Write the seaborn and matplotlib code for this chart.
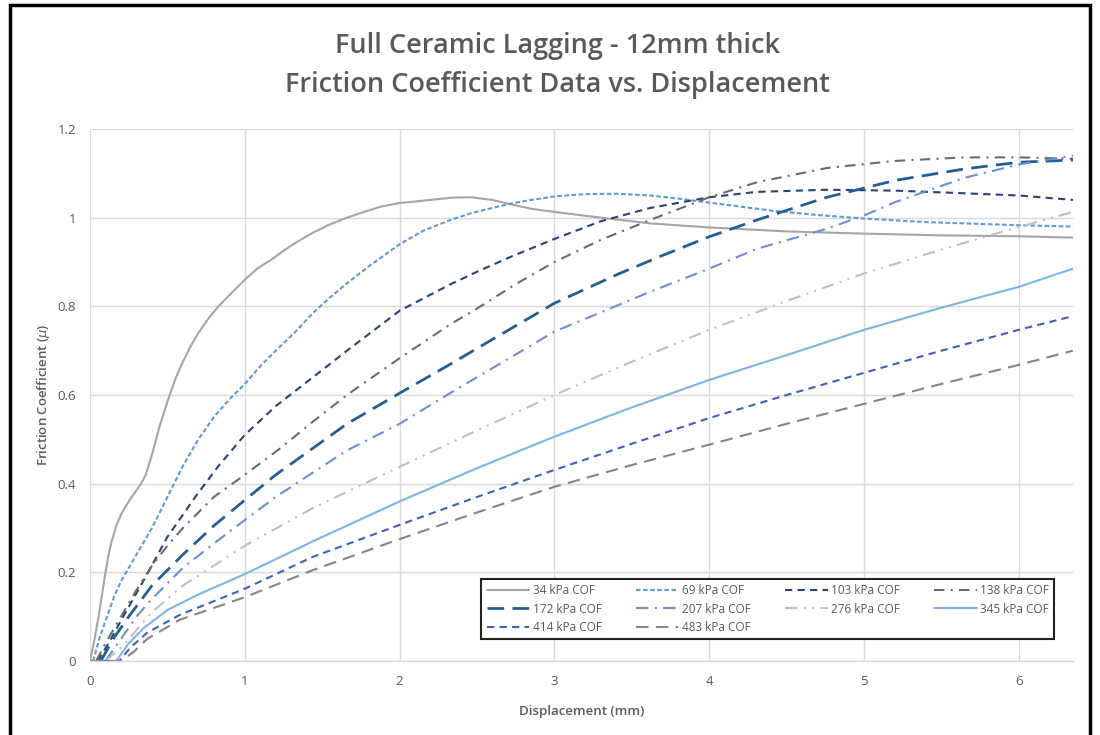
import numpy as np
import pandas as pd
import matplotlib
matplotlib.use("Agg")
import matplotlib.pyplot as plt
from matplotlib.patches import Rectangle
import seaborn as sns

# ---------------- data ----------------
series_names = ["34 kPa COF", "69 kPa COF", "103 kPa COF", "138 kPa COF", "172 kPa COF",
                "207 kPa COF", "276 kPa COF", "345 kPa COF", "414 kPa COF", "483 kPa COF"]

x_34 = [0, 0.03, 0.055, 0.08, 0.1, 0.12, 0.14, 0.17, 0.2, 0.25, 0.3, 0.33, 0.36, 0.4, 0.45, 0.5, 0.55, 0.6,
        0.65, 0.7, 0.77, 0.83, 0.9, 1.0, 1.08, 1.17, 1.26, 1.35, 1.44, 1.55, 1.66, 1.77, 1.88, 2.0, 2.2, 2.33,
        2.46, 2.6, 2.72, 2.85, 3.0, 3.3, 3.62, 4.0, 4.5, 5.0, 5.5, 6.0, 6.35]
y_34 = [0, 0.05, 0.1, 0.155, 0.2, 0.24, 0.27, 0.305, 0.33, 0.36, 0.385, 0.4, 0.42, 0.465, 0.53, 0.585, 0.635, 0.675,
        0.71, 0.74, 0.775, 0.8, 0.825, 0.86, 0.885, 0.905, 0.928, 0.948, 0.966, 0.985, 1.0, 1.013, 1.025, 1.033, 1.04, 1.045,
        1.046, 1.04, 1.03, 1.02, 1.013, 1.0, 0.987, 0.978, 0.969, 0.964, 0.96, 0.958, 0.955]

x_69 = [0.02, 0.06, 0.1, 0.15, 0.2, 0.3, 0.4, 0.5, 0.6, 0.7, 0.8, 0.9, 1.0, 1.1, 1.2, 1.32, 1.44, 1.55, 1.66, 1.8,
        2.0, 2.15, 2.33, 2.46, 2.6, 2.72, 2.85, 3.0, 3.2, 3.4, 3.62, 3.8, 4.0, 4.2, 4.4, 4.7, 5.0, 5.4, 6.0, 6.35]
y_69 = [0, 0.05, 0.09, 0.14, 0.18, 0.24, 0.3, 0.37, 0.44, 0.5, 0.55, 0.59, 0.625, 0.665, 0.7, 0.74, 0.785, 0.82, 0.852, 0.89,
        0.94, 0.97, 0.995, 1.01, 1.022, 1.032, 1.04, 1.048, 1.053, 1.054, 1.05, 1.043, 1.034, 1.025, 1.016, 1.006, 0.998, 0.99, 0.983, 0.98]

x_103 = [0.05, 0.12, 0.23, 0.36, 0.5, 0.68, 0.83, 1.0, 1.2, 1.44, 1.66, 2.0, 2.33, 2.5, 2.72, 3.0, 3.3, 3.62,
         4.0, 4.3, 4.76, 5.2, 5.65, 6.0, 6.35]
y_103 = [0, 0.04, 0.11, 0.19, 0.28, 0.37, 0.44, 0.51, 0.575, 0.64, 0.7, 0.79, 0.85, 0.878, 0.912, 0.952, 0.992, 1.022,
         1.046, 1.058, 1.063, 1.061, 1.055, 1.05, 1.04]

x_138 = [0.04, 0.1, 0.2, 0.3, 0.4, 0.5, 0.6, 0.7, 0.8, 1.0, 1.23, 1.44, 1.66, 2.0, 2.33, 2.5, 2.75, 3.0, 3.3, 3.62,
         4.0, 4.31, 4.76, 5.2, 5.65, 6.0, 6.35]
y_138 = [0, 0.04, 0.1, 0.16, 0.215, 0.26, 0.3, 0.335, 0.37, 0.42, 0.48, 0.54, 0.6, 0.683, 0.76, 0.795, 0.85, 0.9, 0.95, 0.995,
         1.046, 1.08, 1.112, 1.128, 1.136, 1.136, 1.133]

x_172 = [0.07, 0.15, 0.25, 0.4, 0.6, 0.8, 1.0, 1.2, 1.44, 1.66, 2.0, 2.33, 2.5, 3.0, 3.42, 3.7, 4.0, 4.31,
         4.76, 5.2, 5.65, 6.0, 6.35]
y_172 = [0, 0.05, 0.1, 0.17, 0.24, 0.305, 0.363, 0.42, 0.48, 0.535, 0.604, 0.67, 0.705, 0.807, 0.874, 0.915, 0.957, 0.995,
         1.046, 1.084, 1.11, 1.125, 1.13]

x_207 = [0.1, 0.2, 0.3, 0.4, 0.6, 0.8, 1.0, 1.2, 1.44, 1.66, 2.0, 2.33, 2.5, 3.0, 3.62, 4.0, 4.31, 4.76,
         5.0, 5.2, 5.65, 6.0, 6.35]
y_207 = [0, 0.05, 0.1, 0.14, 0.21, 0.265, 0.318, 0.37, 0.425, 0.475, 0.535, 0.605, 0.64, 0.743, 0.833, 0.885, 0.93, 0.975,
         1.005, 1.035, 1.09, 1.12, 1.14]

x_276 = [0.1, 0.2, 0.3, 0.4, 0.6, 0.8, 1.0, 1.44, 2.0, 2.5, 3.0, 3.5, 4.0, 4.5, 5.0, 5.5, 6.0, 6.35]
y_276 = [0, 0.03, 0.07, 0.11, 0.17, 0.215, 0.26, 0.345, 0.438, 0.52, 0.6, 0.675, 0.747, 0.812, 0.874, 0.928, 0.979, 1.013]

x_345 = [0, 0.17, 0.25, 0.35, 0.5, 0.7, 1.0, 1.44, 2.0, 2.5, 3.0, 3.5, 4.0, 4.5, 5.0, 5.5, 6.0, 6.35]
y_345 = [0, 0, 0.04, 0.075, 0.115, 0.15, 0.196, 0.27, 0.36, 0.435, 0.506, 0.572, 0.634, 0.69, 0.747, 0.797, 0.844, 0.885]

x_414 = [0, 0.19, 0.26, 0.37, 0.58, 1.0, 1.44, 2.0, 2.5, 3.0, 3.5, 4.0, 4.5, 5.0, 5.5, 6.0, 6.35]
y_414 = [0, 0, 0.03, 0.064, 0.104, 0.163, 0.235, 0.307, 0.37, 0.431, 0.49, 0.548, 0.6, 0.65, 0.7, 0.747, 0.778]

x_483 = [0, 0.2, 0.28, 0.37, 0.58, 1.0, 1.44, 2.0, 2.5, 3.0, 3.5, 4.0, 4.5, 5.0, 5.5, 6.0, 6.35]
y_483 = [0, 0, 0.02, 0.05, 0.093, 0.144, 0.205, 0.275, 0.335, 0.393, 0.442, 0.488, 0.535, 0.58, 0.625, 0.668, 0.70]

x_ticks = [0, 1, 2, 3, 4, 5, 6]
y_ticks = [0, 0.2, 0.4, 0.6, 0.8, 1.0, 1.2]

# ---------------- styles ----------------
colors = {
    "34 kPa COF": "#A5A5A5", "69 kPa COF": "#5B9BD5", "103 kPa COF": "#264478",
    "138 kPa COF": "#6B6B6B", "172 kPa COF": "#255E91", "207 kPa COF": "#6A8FD6",
    "276 kPa COF": "#BFBFBF", "345 kPa COF": "#7DB3E6", "414 kPa COF": "#3A63B8",
    "483 kPa COF": "#858585",
}
dash_styles = {
    "34 kPa COF": "", "69 kPa COF": (2.2, 1.2), "103 kPa COF": (3.5, 2.5),
    "138 kPa COF": (5, 3, 1, 3), "172 kPa COF": (6, 3), "207 kPa COF": (6, 3, 1, 3),
    "276 kPa COF": (6, 3, 1, 3, 1, 3), "345 kPa COF": "", "414 kPa COF": (3.5, 2.5),
    "483 kPa COF": (6, 3.5),
}
widths = {n: 1.5 for n in series_names}
widths["172 kPa COF"] = 2.0

all_x = [x_34, x_69, x_103, x_138, x_172, x_207, x_276, x_345, x_414, x_483]
all_y = [y_34, y_69, y_103, y_138, y_172, y_207, y_276, y_345, y_414, y_483]
frames = [pd.DataFrame({"Displacement": xs, "COF": ys, "series": name})
          for name, xs, ys in zip(series_names, all_x, all_y)]
df = pd.concat(frames, ignore_index=True)

# ---------------- figure ----------------
sns.set_theme(style="whitegrid")
plt.rcParams["font.family"] = ["Open Sans", "DejaVu Sans"]

fig = plt.figure(figsize=(11, 7.35), dpi=100)
ax = fig.add_axes([90 / 1100, 1 - 661 / 735, (1073 - 90) / 1100, (661 - 129) / 735])

sns.lineplot(data=df, x="Displacement", y="COF", hue="series", style="series",
             palette=colors, dashes=dash_styles, hue_order=series_names, style_order=series_names,
             sort=False, estimator=None, ax=ax, legend=False)
lines = ax.get_lines()
for ln, name in zip(lines, series_names):
    ln.set_linewidth(widths[name])

ax.set_xlim(0, 6.35)
ax.set_ylim(0, 1.2)
ax.set_xticks(x_ticks)
ax.set_yticks(y_ticks)
ax.set_yticklabels([f"{v:g}" for v in y_ticks])
ax.set_xticklabels([f"{v:g}" for v in x_ticks])
ax.grid(True, color="#D9D9D9", linewidth=1.0)
for s in ["left", "right", "top"]:
    ax.spines[s].set_visible(False)
ax.spines["bottom"].set_color("#D9D9D9")
ax.spines["bottom"].set_linewidth(1.0)
ax.tick_params(axis="both", length=0, labelsize=9.5, labelcolor="#595959", pad=10)
ax.set_facecolor("white")

ax.set_xlabel("Displacement (mm)", fontsize=9.5, color="#595959", fontweight="semibold", labelpad=12)
ax.set_ylabel(r"Friction Coefficient ($\mu$)", fontsize=9.5, color="#595959", fontweight="semibold", labelpad=4)

fig.text(0.507, 1 - 46 / 735, "Full Ceramic Lagging - 12mm thick", ha="center", va="center",
         fontsize=19.5, color="#595959", fontweight="semibold")
fig.text(0.507, 1 - 85 / 735, "Friction Coefficient Data vs. Displacement", ha="center", va="center",
         fontsize=19.5, color="#595959", fontweight="semibold")

# legend: rows 34/69/103/138, 172/207/276/345, 414/483
order = [0, 4, 8, 1, 5, 9, 2, 6, 3, 7]
handles = [lines[i] for i in order]
labels = [series_names[i] for i in order]
leg = ax.legend(handles, labels, ncol=4, loc="lower left",
                bbox_to_anchor=(0.392, 0.03, 0.595, 0.122), mode="expand",
                fontsize=8.5, handlelength=3.6, handletextpad=0.3, columnspacing=0.6,
                labelspacing=0.45, borderpad=0.45, fancybox=False, framealpha=1,
                edgecolor="#222222", labelcolor="#595959")
leg.get_frame().set_linewidth(1.5)

# outer border of the chart area
fig.patches.append(Rectangle((10 / 1100, -0.02), 1080 / 1100, 1 - 5 / 735 + 0.02,
                             transform=fig.transFigure, fill=False, edgecolor="black",
                             linewidth=2.5))

fig.savefig("out.png", dpi=100, facecolor="white")
